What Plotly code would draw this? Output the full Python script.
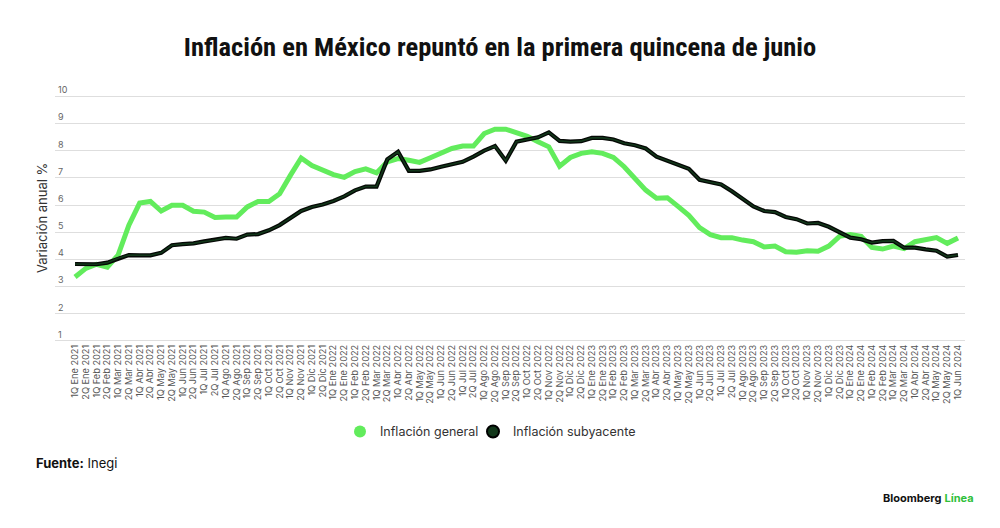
import plotly.graph_objects as go

months = ["Ene", "Feb", "Mar", "Abr", "May", "Jun", "Jul", "Ago", "Sep", "Oct", "Nov", "Dic"]
years = [2021, 2022, 2023, 2024]
halves = ["1Q", "2Q"]

categories = []
for y in years:
    for m in months:
        for h in halves:
            categories.append(f"{h} {m} {y}")
categories = categories[:categories.index("1Q Jun 2024") + 1]

general = [3.35, 3.67, 3.82, 3.71, 4.16, 5.26, 6.07, 6.13, 5.78, 5.99, 5.99, 5.77,
           5.74, 5.54, 5.56, 5.56, 5.93, 6.13, 6.13, 6.41, 7.09, 7.73, 7.45, 7.27,
           7.12, 7.02, 7.23, 7.33, 7.18, 7.59, 7.71, 7.65, 7.57, 7.74, 7.90, 8.08,
           8.17, 8.17, 8.63, 8.79, 8.79, 8.66, 8.53, 8.33, 8.14, 7.43, 7.75, 7.90,
           7.96, 7.90, 7.75, 7.41, 6.98, 6.55, 6.25, 6.27, 5.95, 5.62, 5.17, 4.91,
           4.80, 4.80, 4.71, 4.65, 4.46, 4.49, 4.28, 4.26, 4.32, 4.30, 4.49, 4.85,
           4.91, 4.85, 4.44, 4.38, 4.49, 4.40, 4.65, 4.71, 4.80, 4.59, 4.79]

subyacente = [3.83, 3.83, 3.82, 3.88, 4.04, 4.16, 4.15, 4.15, 4.24, 4.52, 4.56, 4.59,
              4.66, 4.71, 4.79, 4.76, 4.91, 4.93, 5.07, 5.26, 5.52, 5.78, 5.93, 6.02,
              6.15, 6.32, 6.54, 6.68, 6.68, 7.68, 7.96, 7.26, 7.26, 7.31, 7.41, 7.49,
              7.59, 7.78, 8.00, 8.17, 7.63, 8.33, 8.42, 8.49, 8.67, 8.36, 8.33, 8.35,
              8.47, 8.47, 8.41, 8.27, 8.20, 8.08, 7.78, 7.62, 7.48, 7.33, 6.93, 6.84,
              6.76, 6.51, 6.23, 5.95, 5.78, 5.74, 5.56, 5.48, 5.32, 5.34, 5.20, 4.99,
              4.80, 4.74, 4.62, 4.67, 4.68, 4.43, 4.43, 4.37, 4.32, 4.10, 4.16]

y_ticks = list(range(1, 11))

GREEN = "#62ec5c"
DARK = "#12371a"

# pixel layout helpers
PL, PR = 55, 965
Y_LO, Y_HI = 0.96, 10.6
PB = 342
UNIT = 27.2
PT = PB - (Y_HI - Y_LO) * UNIT
PW, PH = PR - PL, PB - PT

def px(xp):
    return (xp - PL) / PW

def py(yp):
    return (PB - yp) / PH

fig = go.Figure()
fig.add_trace(go.Scatter(x=categories, y=general, mode="lines", showlegend=False,
                         line=dict(color=GREEN, width=5), hoverinfo="skip"))
fig.add_trace(go.Scatter(x=categories, y=subyacente, mode="lines", showlegend=False,
                         line=dict(color="#050805", width=4.2), hoverinfo="skip"))
fig.add_trace(go.Scatter(x=categories, y=subyacente, mode="lines", showlegend=False,
                         line=dict(color=DARK, width=1.6)))
# legend entries (circles)
fig.add_trace(go.Scatter(x=[None], y=[None], mode="markers", name="Inflación general",
                         legend="legend",
                         marker=dict(color=GREEN, size=15, symbol="circle")))
fig.add_trace(go.Scatter(x=[None], y=[None], mode="markers", name="Inflación subyacente",
                         legend="legend2",
                         marker=dict(color=DARK, size=15, symbol="circle",
                                     line=dict(color="#000000", width=1.5))))

legend_style = dict(orientation="h", yanchor="middle", xanchor="left",
                    font=dict(size=12.5, color="#333333"), itemsizing="constant",
                    bgcolor="rgba(0,0,0,0)")

n = len(categories)
fig.update_layout(
    width=1000, height=528,
    paper_bgcolor="white", plot_bgcolor="white",
    margin=dict(l=PL, r=1000 - PR, t=PT, b=528 - PB, autoexpand=False),
    font=dict(family="Inter, Roboto, sans-serif", color="#333333"),
    title=dict(text="<b>Inflación en México repuntó en la primera quincena de junio</b>",
               x=0.5, xanchor="center", y=1 - 47 / 528, yanchor="middle",
               font=dict(family="Liberation Sans Narrow, Roboto Condensed, Roboto", size=26.5, color="#111111")),
    legend=dict(x=px(340), y=py(432), **legend_style),
    legend2=dict(x=px(473), y=py(432), **legend_style),
    xaxis=dict(type="category", range=[-1.86, n - 1 + 0.65], showgrid=False,
               tickmode="array", tickvals=categories, ticktext=categories,
               tickangle=-90, tickfont=dict(size=9.2, color="#555555"), automargin=False,
               ticks="", showline=False, zeroline=False, fixedrange=True),
    yaxis=dict(range=[Y_LO, Y_HI], tickvals=y_ticks, showgrid=True, gridcolor="#dedede",
               gridwidth=1, ticklabelposition="inside top", ticks="", automargin=False,
               tickfont=dict(size=9, color="#666666"), zeroline=False, showline=False,
               fixedrange=True),
)

fig.add_annotation(text="Variación anual %", xref="paper", yref="paper",
                   x=px(42), y=py(218), xanchor="center", yanchor="middle",
                   textangle=-90, showarrow=False, font=dict(size=13, color="#333333"))
fig.add_annotation(text="<b>Fuente:</b> Inegi", xref="paper", yref="paper",
                   x=px(34), y=py(463), xanchor="left", yanchor="middle",
                   showarrow=False, font=dict(size=13, color="#111111"))
fig.add_annotation(text="<b>Bloomberg</b> <span style='color:#2fbf3a'><b>Línea</b></span>",
                   xref="paper", yref="paper",
                   x=px(976), y=py(498), xanchor="right", yanchor="middle",
                   showarrow=False, font=dict(size=11, color="#111111"))

fig.write_html("out.html", config={"displayModeBar": False},
               post_script="document.body.style.margin='0';document.body.style.padding='0';")
